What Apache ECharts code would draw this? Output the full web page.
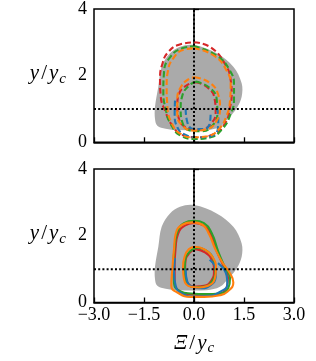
<!DOCTYPE html>
<html><head><meta charset="utf-8">
<script src="https://cdn.jsdelivr.net/npm/echarts@6/dist/echarts.min.js"></script>
<style>html,body{margin:0;padding:0;background:#fff}#c{width:316px;height:361px}</style>
</head><body><div id="c"></div>
<script>
// ---- data ----
var xTicks = [-3.0, -1.5, 0.0, 1.5, 3.0];
var yTicks = [0, 2, 4];
var refX = 0, refY = 1;
// grey envelope (both panels)
var greyRegion = [[0,2.92],[0.68,2.67],[1.18,2.27],[1.43,1.77],[1.43,1.37],[1.28,1.02],[1.03,0.72],[0.78,0.47],[0.38,0.37],[-0.5,0.37],[-0.85,0.41],[-1.1,0.5],[-1.17,0.7],[-1.17,1.07],[-1.07,1.67],[-0.97,2.27],[-0.72,2.67],[-0.42,2.87]];
// top panel (dashed)
var redOuterTop = [[0,3.0],[0.5,2.85],[0.93,2.35],[1.1,1.87],[1.13,1.45],[1.08,1.05],[0.95,0.6],[0.6,0.25],[0.1,0.15],[-0.35,0.22],[-0.65,0.5],[-0.85,0.9],[-1.0,1.4],[-1.02,1.9],[-0.95,2.35],[-0.78,2.7],[-0.45,2.93],[0,3.0]];
var greenOuterTop = [[0,2.88],[0.65,2.62],[1.08,2.15],[1.2,1.7],[1.2,1.3],[1.08,0.8],[0.85,0.4],[0.5,0.15],[0.05,0.1],[-0.4,0.2],[-0.7,0.55],[-0.85,1.0],[-0.92,1.5],[-0.9,2.1],[-0.72,2.55],[-0.35,2.82],[0,2.88]];
var orangeOuterTop = [[0,2.82],[0.6,2.6],[0.98,2.15],[1.1,1.7],[1.08,1.25],[0.98,0.8],[0.75,0.4],[0.4,0.18],[0,0.15],[-0.4,0.25],[-0.68,0.6],[-0.8,1.1],[-0.82,1.7],[-0.78,2.15],[-0.6,2.55],[-0.3,2.78],[0,2.82]];
var orangeInnerTop = [[0.03,1.95],[0.45,1.8],[0.72,1.45],[0.78,1.05],[0.68,0.65],[0.4,0.4],[0,0.35],[-0.35,0.5],[-0.5,0.85],[-0.5,1.3],[-0.38,1.68],[-0.15,1.9],[0.03,1.95]];
var redInnerTop = [[0.05,1.8],[0.4,1.65],[0.62,1.3],[0.65,0.9],[0.5,0.55],[0.2,0.38],[-0.15,0.42],[-0.45,0.7],[-0.5,1.1],[-0.45,1.45],[-0.2,1.72],[0.05,1.8]];
var greenInnerTop = [[0.05,1.82],[0.45,1.65],[0.68,1.3],[0.7,0.85],[0.55,0.5],[0.25,0.33],[-0.1,0.35],[-0.35,0.6],[-0.4,1.0],[-0.35,1.4],[-0.15,1.7],[0.05,1.82]];
var blueOuterTop = [[-0.57,1.25],[-0.58,0.85],[-0.5,0.45],[-0.25,0.22],[0.15,0.15],[0.55,0.2],[0.72,0.45],[0.73,0.8],[0.68,1.05]];
var blueInnerTop = [[-0.25,1.0],[-0.2,0.6],[0,0.4],[0.3,0.4],[0.48,0.6],[0.5,0.9]];
// bottom panel (solid)
var greenOuterBot = [[0,2.45],[0.3,2.38],[0.53,2.08],[0.73,1.52],[0.93,1.05],[1.08,0.73],[1.03,0.43],[0.75,0.27],[0.38,0.25],[-0.1,0.27],[-0.4,0.33],[-0.6,0.58],[-0.62,1.07],[-0.58,1.67],[-0.5,2.1],[-0.3,2.38],[0,2.45]];
var redOuterBot = [[0,2.38],[0.3,2.3],[0.5,2.05],[0.68,1.55],[0.88,1.1],[1.02,0.75],[0.98,0.45],[0.7,0.25],[0.3,0.22],[-0.1,0.24],[-0.45,0.35],[-0.58,0.6],[-0.58,1.1],[-0.55,1.65],[-0.48,2.05],[-0.28,2.3],[0,2.38]];
var orangeOuterBot = [[-0.05,2.4],[0.25,2.33],[0.45,2.05],[0.63,1.62],[0.85,1.2],[1.05,0.92],[1.18,0.6],[1.0,0.32],[0.78,0.22],[0.3,0.17],[-0.1,0.17],[-0.5,0.3],[-0.68,0.5],[-0.65,1.0],[-0.6,1.6],[-0.55,2.05],[-0.35,2.33],[-0.05,2.4]];
var orangeInnerBot = [[0.03,1.67],[0.3,1.6],[0.55,1.38],[0.66,1.0],[0.62,0.7],[0.42,0.5],[0.15,0.45],[-0.1,0.47],[-0.3,0.7],[-0.33,1.05],[-0.28,1.38],[-0.15,1.6],[0.03,1.67]];
var greenInnerBot = [[0.1,1.65],[0.38,1.55],[0.58,1.3],[0.64,0.95],[0.55,0.65],[0.32,0.48],[0.05,0.46],[-0.18,0.55],[-0.28,0.85],[-0.27,1.2],[-0.15,1.5],[0.1,1.65]];
var redInnerBot = [[0.06,1.6],[0.33,1.5],[0.53,1.28],[0.6,0.95],[0.52,0.66],[0.3,0.5],[0.05,0.48],[-0.18,0.57],[-0.27,0.87],[-0.26,1.2],[-0.14,1.48],[0.06,1.6]];
var blueOuterBot = [[-0.57,1.33],[-0.6,0.9],[-0.55,0.5],[-0.38,0.28],[0,0.18],[0.45,0.2],[0.75,0.3],[1.0,0.55],[0.98,0.8],[0.72,1.18]];
var blueInnerBot = [[-0.25,1.0],[-0.2,0.62],[0.0,0.46],[0.22,0.43],[0.5,0.52],[0.65,0.75],[0.66,0.95],[0.47,1.28]];

var C = {blue:'#1f77b4', orange:'#ff7f0e', green:'#2ca02c', red:'#d62728', grey:'#aaaaaa'};
var serif = "'Liberation Serif', 'DejaVu Serif', serif";

function contour(data, color, g, dashed){
  return {type:'line', xAxisIndex:g, yAxisIndex:g, data:data, smooth:0.5, symbol:'none', silent:true, z:3,
    lineStyle:{color:color, width:2.1, type: dashed ? [6,3] : 'solid'}};
}
function greySeries(g){
  return {type:'custom', xAxisIndex:g, yAxisIndex:g, data:[0], silent:true, z:1,
    renderItem:function(params, api){
      var pts = greyRegion.map(function(p){return api.coord(p);});
      return {type:'polygon', shape:{points:pts, smooth:0.35}, style:{fill:C.grey}};
    }};
}
function dotted(g){
  return [
    {type:'line', xAxisIndex:g, yAxisIndex:g, data:[[refX,0],[refX,4]], symbol:'none', silent:true, z:5, lineStyle:{color:'#000', width:2, type:[2,2.2]}},
    {type:'line', xAxisIndex:g, yAxisIndex:g, data:[[-3,refY],[3,refY]], symbol:'none', silent:true, z:5, lineStyle:{color:'#000', width:2, type:[2,2.2]}}
  ];
}
function fmtX(v){ return (v<0?'\u2212':'') + Math.abs(v).toFixed(1); }
var richName = {
  i:{fontFamily:serif, fontStyle:'italic', fontSize:21, color:'#000'},
  n:{fontFamily:serif, fontSize:21, color:'#000', padding:[0,2,0,2]},
  s:{fontFamily:serif, fontStyle:'italic', fontSize:15, color:'#000', padding:[10,0,0,1]}
};

function xAxis(g, labels){
  return {type:'value', gridIndex:g, min:-3, max:3, interval:1.5,
    axisLine:{show:true, lineStyle:{color:'#000', width:1.5}},
    axisTick:{show:true, inside:true, length:5, lineStyle:{color:'#000', width:1.3}},
    axisLabel:{show:labels, formatter:fmtX, color:'#000', fontFamily:serif, fontSize:18, margin:4},
    splitLine:{show:false},
    name: labels ? '{i|\u039E}{n|/}{i|y}{s|c}' : '',
    nameLocation:'middle', nameGap:28,
    nameTextStyle:{rich:richName}
  };
}
function yAxis(g){
  return {type:'value', gridIndex:g, min:0, max:4, interval:2,
    axisLine:{show:true, lineStyle:{color:'#000', width:1.5}},
    axisTick:{show:true, inside:true, length:5, lineStyle:{color:'#000', width:1.3}},
    axisLabel:{color:'#000', fontFamily:serif, fontSize:18, margin:7},
    splitLine:{show:false},
    name:'{i|y}{n|/}{i|y}{s|c}', nameLocation:'middle', nameRotate:0, nameGap:28,
    nameTextStyle:{align:'right', padding:[0,0,4,0], rich:richName}
  };
}

var series = [];
series.push(greySeries(0), greySeries(1));
series.push(contour(redOuterTop, C.red, 0, true), contour(redInnerTop, C.red, 0, true));
series.push(contour(greenOuterTop, C.green, 0, true), contour(greenInnerTop, C.green, 0, true));
series.push(contour(blueOuterTop, C.blue, 0, true), contour(blueInnerTop, C.blue, 0, true));
series.push(contour(orangeOuterTop, C.orange, 0, true), contour(orangeInnerTop, C.orange, 0, true));
series.push(contour(redOuterBot, C.red, 1, false), contour(redInnerBot, C.red, 1, false));
series.push(contour(greenOuterBot, C.green, 1, false), contour(greenInnerBot, C.green, 1, false));
series.push(contour(blueOuterBot, C.blue, 1, false), contour(blueInnerBot, C.blue, 1, false));
series.push(contour(orangeOuterBot, C.orange, 1, false), contour(orangeInnerBot, C.orange, 1, false));
series = series.concat(dotted(0), dotted(1));

var chart = echarts.init(document.getElementById('c'), null, {renderer:'canvas'});
chart.setOption({
  animation:false,
  backgroundColor:'#fff',
  grid:[
    {left:94, top:9, width:200, height:133.3, show:true, borderColor:'#000', borderWidth:1.5, backgroundColor:'transparent'},
    {left:94, top:169, width:200, height:133.5, show:true, borderColor:'#000', borderWidth:1.5, backgroundColor:'transparent'}
  ],
  xAxis:[xAxis(0,false), xAxis(1,true)],
  yAxis:[yAxis(0), yAxis(1)],
  series:series
});
</script></body></html>
